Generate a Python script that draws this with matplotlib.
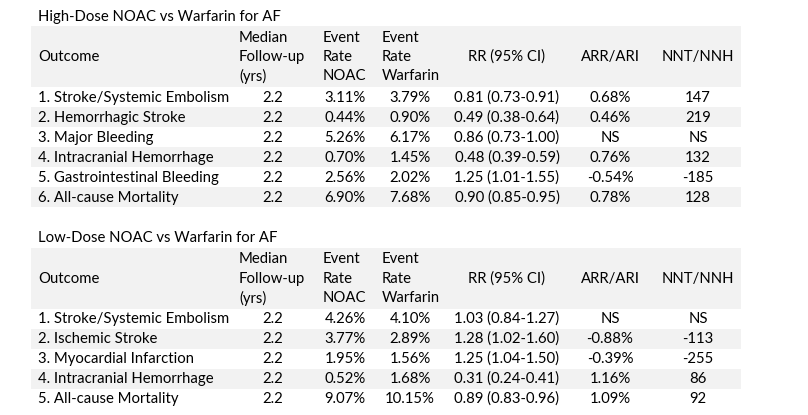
import matplotlib.pyplot as plt
from matplotlib.patches import Rectangle

# donnees des deux tableaux
titre_haut = "High-Dose NOAC vs Warfarin for AF"
issues_haut = ["1. Stroke/Systemic Embolism", "2. Hemorrhagic Stroke", "3. Major Bleeding",
               "4. Intracranial Hemorrhage", "5. Gastrointestinal Bleeding", "6. All-cause Mortality"]
suivi_haut = ["2.2", "2.2", "2.2", "2.2", "2.2", "2.2"]
noac_haut = ["3.11%", "0.44%", "5.26%", "0.70%", "2.56%", "6.90%"]
warf_haut = ["3.79%", "0.90%", "6.17%", "1.45%", "2.02%", "7.68%"]
rr_haut = ["0.81 (0.73-0.91)", "0.49 (0.38-0.64)", "0.86 (0.73-1.00)",
           "0.48 (0.39-0.59)", "1.25 (1.01-1.55)", "0.90 (0.85-0.95)"]
arr_haut = ["0.68%", "0.46%", "NS", "0.76%", "-0.54%", "0.78%"]
nnt_haut = ["147", "219", "NS", "132", "-185", "128"]

titre_bas = "Low-Dose NOAC vs Warfarin for AF"
issues_bas = ["1. Stroke/Systemic Embolism", "2. Ischemic Stroke", "3. Myocardial Infarction",
              "4. Intracranial Hemorrhage", "5. All-cause Mortality"]
suivi_bas = ["2.2", "2.2", "2.2", "2.2", "2.2"]
noac_bas = ["4.26%", "3.77%", "1.95%", "0.52%", "9.07%"]
warf_bas = ["4.10%", "2.89%", "1.56%", "1.68%", "10.15%"]
rr_bas = ["1.03 (0.84-1.27)", "1.28 (1.02-1.60)", "1.25 (1.04-1.50)",
          "0.31 (0.24-0.41)", "0.89 (0.83-0.96)"]
arr_bas = ["NS", "-0.88%", "-0.39%", "1.16%", "1.09%"]
nnt_bas = ["NS", "-113", "-255", "86", "92"]

entetes = ["Outcome", "Median\nFollow-up\n(yrs)", "Event\nRate\nNOAC", "Event\nRate\nWarfarin",
           "RR (95% CI)", "ARR/ARI", "NNT/NNH"]

plt.rcParams['font.family'] = ['Lato', 'DejaVu Sans']
taille = 10.7
gris = '#f2f2f2'
x0, x1 = 31, 741

fig = plt.figure(figsize=(8.08, 4.15), dpi=100)
ax = fig.add_axes([0, 0, 1, 1])
ax.set_xlim(0, 808)
ax.set_ylim(415, 0)
ax.axis('off')


def tableau(ytitre, yhaut, titre, colonnes):
    ax.text(38, ytitre, titre, fontsize=taille, va='center', ha='left')
    # bande d'entete
    ax.add_patch(Rectangle((x0, yhaut), x1 - x0, 61, color=gris, lw=0))
    ymil = yhaut + 31
    ax.text(38, ymil, entetes[0], fontsize=taille, va='center', ha='left')
    for xe, h in zip([239, 323, 382], entetes[1:4]):
        for k, ligne in enumerate(h.split('\n')):
            ax.text(xe, ymil - 19.5 + 19.5 * k, ligne, fontsize=taille, va='center', ha='left')
    for xc, h in zip([507, 610, 698], entetes[4:]):
        ax.text(xc, ymil, h, fontsize=taille, va='center', ha='center')
    # lignes
    y = yhaut + 61
    for i in range(len(colonnes[0])):
        if i % 2 == 1:
            ax.add_patch(Rectangle((x0, y), x1 - x0, 20, color=gris, lw=0))
        yc = y + 10.5
        ax.text(38, yc, colonnes[0][i], fontsize=taille, va='center', ha='left')
        for xc, col in zip([273, 345, 410, 507, 610, 698], colonnes[1:]):
            ax.text(xc, yc, col[i], fontsize=taille, va='center', ha='center')
        y += 20


tableau(17, 26, titre_haut, [issues_haut, suivi_haut, noac_haut, warf_haut, rr_haut, arr_haut, nnt_haut])
tableau(238, 247.5, titre_bas, [issues_bas, suivi_bas, noac_bas, warf_bas, rr_bas, arr_bas, nnt_bas])

plt.savefig('out.png', dpi=100)
